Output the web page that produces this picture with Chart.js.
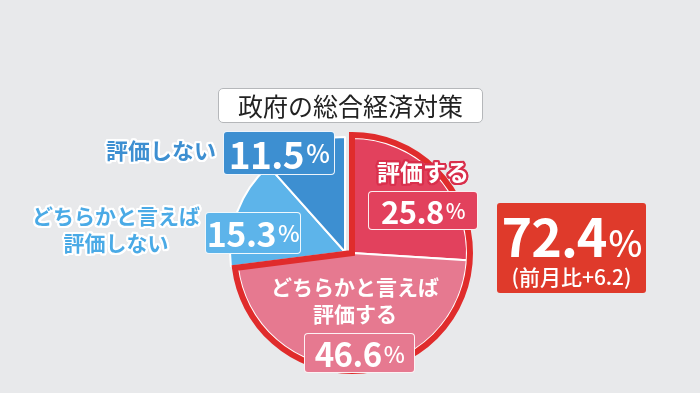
<!DOCTYPE html>
<html lang="ja">
<head>
<meta charset="utf-8">
<script src="https://cdn.jsdelivr.net/npm/chart.js@4.4.1/dist/chart.umd.min.js"></script>
<style>
    html, body { margin: 0; padding: 0; }
    body {
        width: 700px; height: 393px; overflow: hidden; position: relative;
        background: #e8e9eb;
        font-family: "Noto Sans CJK JP", "Noto Sans", sans-serif;
    }
    #pieChart { position: absolute; left: 0; top: 0; }
    .box {
        position: absolute; box-sizing: border-box;
        border: 1.5px solid rgba(255,255,255,0.9); border-radius: 4px;
        color: #fff; display: flex; align-items: center; justify-content: center;
        font-weight: 700; line-height: 1; letter-spacing: -0.5px;
    }
    .box small { font-size: 0.68em; margin-left: 2px; font-weight: 500; }
    .txt { position: absolute; font-weight: 700; text-align: center; line-height: 1.3; white-space: nowrap; }
    #title {
        position: absolute; left: 218px; top: 88px; width: 265px; height: 35px; box-sizing: border-box;
        background: #fff; border: 1.5px solid #b5b7ba; border-radius: 5px;
        display: flex; align-items: center; justify-content: center;
        font-size: 25px; color: #222; line-height: 1;
    }
    #total {
        position: absolute; left: 497px; top: 203px; width: 149px; height: 90px; box-sizing: border-box;
        background: #df3a2b; border-radius: 3px; color: #fff; text-align: center;
    }
    #total .big { font-size: 52px; font-weight: 700; line-height: 1; margin-top: 6px; letter-spacing: -1px; }
    #total .big small { font-size: 36px; margin-left: 2px; font-weight: 500; }
    #total .sub { font-size: 21px; font-weight: 500; line-height: 1; margin-top: 5px; }
</style>
</head>
<body>
<canvas id="pieChart" width="700" height="393"></canvas>
<div id="title"></div>
<div id="total"></div>
<script>
// ---------- data ----------
const chartTitle = "政府の総合経済対策";
const categories = ["評価する", "どちらかと言えば\n評価する", "どちらかと言えば\n評価しない", "評価しない"];
const values = [25.8, 46.6, 15.3, 11.5];
const sliceColors = ["#e2415d", "#e67990", "#5db4ea", "#3d8fd1"];
const totalLabel = "72.4";
const diffLabel = "(前月比+6.2)";

// ---------- plugins ----------
// shift the two "評価" slices out as one group, then draw the red outline round them
const groupShift = {
    id: "groupShift",
    afterDatasetsUpdate(chart) {
        const arcs = chart.getDatasetMeta(0).data;
        [0, 1].forEach(i => { arcs[i].x += 7; arcs[i].y += 1; });
    },
    afterDatasetsDraw(chart) {
        const arcs = chart.getDatasetMeta(0).data;
        const a = arcs[0], b = arcs[1];
        const ctx = chart.ctx;
        const r = a.outerRadius + 3;
        ctx.save();
        ctx.beginPath();
        ctx.moveTo(a.x, a.y);
        ctx.arc(a.x, a.y, r, a.startAngle, b.endAngle);
        ctx.closePath();
        ctx.lineWidth = 6;
        ctx.lineJoin = "miter";
        ctx.strokeStyle = "#e02c2c";
        ctx.stroke();
        ctx.restore();
    }
};

new Chart(document.getElementById("pieChart").getContext("2d"), {
    type: "pie",
    data: {
        labels: categories,
        datasets: [{
            data: values,
            backgroundColor: sliceColors,
            borderColor: "#ffffff",
            borderWidth: 2
        }]
    },
    options: {
        responsive: false,
        animation: false,
        layout: { padding: { left: 229, right: 239, top: 136, bottom: 25 } },
        plugins: { legend: { display: false }, tooltip: { enabled: false } }
    },
    plugins: [groupShift]
});

// ---------- labels ----------
document.getElementById("title").textContent = chartTitle;
document.getElementById("total").innerHTML =
    '<div class="big">' + totalLabel + '<small>%</small></div><div class="sub">' + diffLabel + '</div>';

function addBox(i, left, top, w, h, size) {
    const d = document.createElement("div");
    d.className = "box";
    d.style.cssText = `left:${left}px;top:${top}px;width:${w}px;height:${h}px;font-size:${size}px;background:${sliceColors[i]}`;
    d.innerHTML = values[i].toFixed(1) + "<small>%</small>";
    document.body.appendChild(d);
}

function outline(c, w) {
    const s = [];
    for (let k = 0; k < 16; k++) {
        const t = k / 16 * Math.PI * 2;
        s.push(`${(Math.cos(t) * w).toFixed(1)}px ${(Math.sin(t) * w).toFixed(1)}px 0 ${c}`);
    }
    return s.join(",");
}

function addText(i, cx, top, size, color, stroke) {
    const d = document.createElement("div");
    d.className = "txt";
    d.style.cssText = `left:${cx}px;top:${top}px;font-size:${size}px;color:${color};transform:translateX(-50%)`;
    if (stroke) d.style.textShadow = outline(stroke, 2.2);
    d.innerHTML = categories[i].replace("\n", "<br>");
    document.body.appendChild(d);
}

addBox(3, 223, 131, 112, 44, 37);
addBox(2, 205, 212, 96, 42, 34);
addBox(0, 368, 191, 110, 39, 31);
addBox(1, 304, 333, 111, 40, 33);

addText(3, 161, 135, 22, "#3d8fd1", "#ffffff");
addText(2, 116, 202, 21, "#4aaae6", "#ffffff");
addText(0, 423, 157, 23, "#ffffff", "#d9304d");
addText(1, 355, 273, 21, "#ffffff", null);
</script>
</body>
</html>
